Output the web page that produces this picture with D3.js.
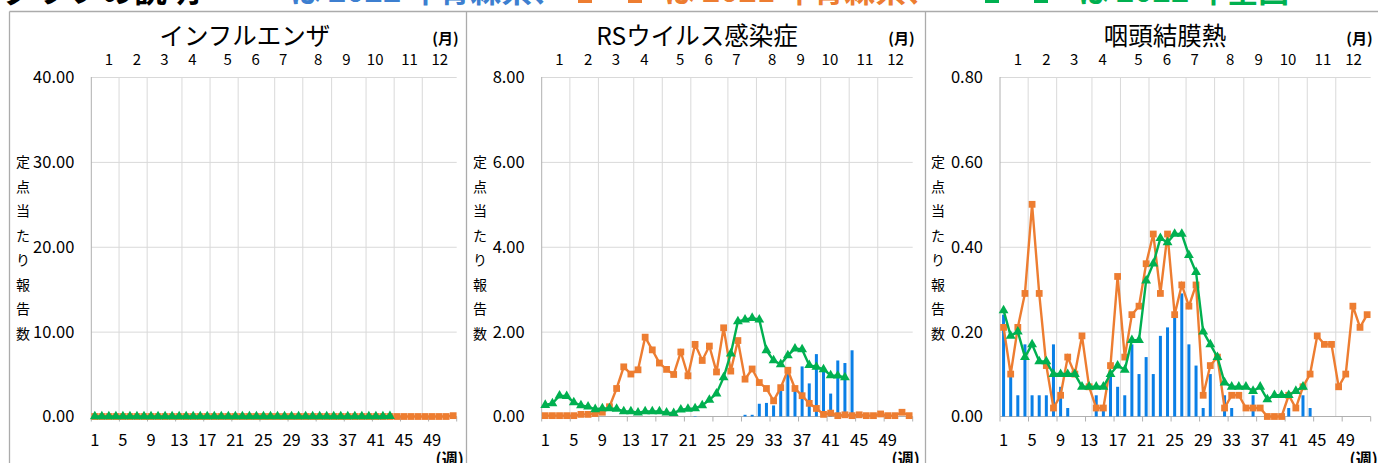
<!DOCTYPE html>
<html>
<head>
<meta charset="utf-8">
<script src="https://cdn.jsdelivr.net/npm/d3@7"></script>
<style>
  body { margin: 0; background: #fff; }
  svg { display: block; font-family: "Noto Sans CJK JP", "Noto Sans", sans-serif; }
</style>
</head>
<body>
<svg id="chart" width="1378" height="463"></svg>
<script>
// weeks 1..52 on the category axis
const weeks = d3.range(1, 53);
const weekTicks = [1, 5, 9, 13, 17, 21, 25, 29, 33, 37, 41, 45, 49];
const monthLabels = ["1", "2", "3", "4", "5", "6", "7", "8", "9", "10", "11", "12"];
// month positions in "weeks from the left edge" (secondary month axis)
const monthLabelPos = [2.5, 6.5, 10.4, 14.4, 19.4, 23.4, 27.3, 32.3, 36.3, 40.4, 45.3, 49.6];
const monthGridPos = [3.95, 7.95, 12.9, 16.9, 20.9, 26.1, 30.1, 34.2, 39.1, 43.1, 47.1];
const yLabelChars = ["定", "点", "当", "た", "り", "報", "告", "数"];

// ---- インフルエンザ ----
const flu2022Aomori = [0,0,0,0,0,0,0,0,0,0,0,0,0,0,0,0,0,0,0,0,0,0,0,0,0,0,0,0,0,0,0,0,0,0,0,0,0,0,0,0,0,0,0,0];
const flu2021Aomori = [0,0,0,0,0,0,0,0,0,0,0,0,0,0,0,0,0,0,0,0,0,0,0,0,0,0,0,0,0,0,0,0,0,0,0,0,0,0,0,0,0,0,0,0,0,0,0,0,0,0,0,0.1];
const flu2022Japan = [0.02,0.02,0.02,0.02,0.01,0.01,0.01,0.01,0.01,0.01,0.01,0.01,0.01,0.01,0.01,0.01,0.01,0.01,0.01,0.01,0.01,0.02,0.02,0.02,0.02,0.02,0.02,0.02,0.02,0.02,0.02,0.02,0.02,0.02,0.02,0.02,0.02,0.02,0.02,0.02,0.02,0.02,0.03];

// ---- RSウイルス感染症 ----
const rs2022Aomori = [0,0,0,0,0,0,0,0,0,0,0,0,0,0,0,0,0,0,0,0,0,0.01,0,0,0,0,0,0,0.04,0.04,0.30,0.32,0.26,0.60,1.00,0.62,1.18,0.78,1.47,1.05,0.54,1.32,1.26,1.56];
const rs2021Aomori = [0.02,0.02,0.02,0.02,0.02,0.05,0.05,0.07,0.10,0.23,0.66,1.17,1.00,1.10,1.87,1.57,1.26,1.11,0.99,1.52,0.96,1.70,1.32,1.66,1.05,2.09,1.07,1.79,0.88,1.12,0.80,0.66,0.37,0.68,1.09,0.66,0.49,0.31,0.19,0.05,0.08,0.02,0.04,0.02,0.04,0.02,0.02,0.06,0.02,0.02,0.10,0.02];
const rs2022Japan = [0.27,0.31,0.49,0.48,0.33,0.26,0.23,0.17,0.19,0.19,0.18,0.12,0.12,0.09,0.12,0.12,0.12,0.09,0.08,0.16,0.18,0.19,0.26,0.39,0.54,0.92,1.48,2.24,2.28,2.32,2.28,1.56,1.32,1.23,1.44,1.60,1.58,1.21,1.17,1.11,0.97,0.96,0.92];

// ---- 咽頭結膜熱 ----
const pcf2022Aomori = [0.24,0.10,0.05,0.17,0.05,0.05,0.05,0.17,0.07,0.02,0,0,0,0.05,0.02,0.10,0.07,0.05,0.17,0.10,0.14,0.10,0.19,0.21,0.24,0.29,0.17,0.12,0.02,0.10,0,0.05,0.02,0,0,0.05,0,0,0,0,0.02,0,0.05,0.02];
const pcf2021Aomori = [0.21,0.10,0.21,0.29,0.50,0.29,0.12,0.02,0.05,0.14,0.10,0.19,0.07,0.02,0.02,0.12,0.33,0.14,0.24,0.26,0.36,0.43,0.29,0.43,0.24,0.31,0.26,0.31,0.05,0.12,0.14,0.02,0.05,0.05,0.02,0.02,0.02,0,0,0,0.05,0.02,0.07,0.10,0.19,0.17,0.17,0.07,0.10,0.26,0.21,0.24];
const pcf2022Japan = [0.25,0.19,0.20,0.14,0.17,0.13,0.13,0.10,0.10,0.10,0.10,0.07,0.07,0.07,0.07,0.10,0.12,0.11,0.18,0.18,0.32,0.36,0.42,0.41,0.43,0.43,0.38,0.34,0.20,0.17,0.14,0.08,0.07,0.07,0.07,0.06,0.07,0.04,0.05,0.05,0.05,0.06,0.07];

const panels = [
  { title: "インフルエンザ", titleX: 245, x0: 91.3, x1: 456.7, yMax: 40, yTicks: [0, 10, 20, 30, 40], labelX: 23, border: 9.5,
    bars: flu2022Aomori, orange: flu2021Aomori, green: flu2022Japan },
  { title: "RSウイルス感染症", titleX: 697, x0: 541.7, x1: 912.7, yMax: 8, yTicks: [0, 2, 4, 6, 8], labelX: 480, border: 466.5,
    bars: rs2022Aomori, orange: rs2021Aomori, green: rs2022Japan },
  { title: "咽頭結膜熱", titleX: 1165, x0: 1000, x1: 1370.7, yMax: 0.8, yTicks: [0, 0.2, 0.4, 0.6, 0.8], labelX: 938, border: 925.5,
    bars: pcf2022Aomori, orange: pcf2021Aomori, green: pcf2022Japan }
];

const blue = "#0a7fe6", orange = "#ed7d31", green = "#00b050";
const grid = "#d9d9d9", axisCol = "#b0b0b0";
const yTop = 77, yBottom = 416.5;

const svg = d3.select("#chart");

// ---------- header (cut off at the top) ----------
const head = svg.append("g").attr("id", "header");
head.append("text").attr("x", 2).attr("y", 2)
  .style("font-size", "33px").style("font-weight", "bold").attr("fill", "#000")
  .text("グラフの説明");
head.append("text").attr("x", 290).attr("y", 2)
  .style("font-size", "31px").style("font-weight", "bold").attr("fill", "#3d7fd0")
  .text("は 2022 年青森県、");
[578, 628].forEach(x0 => head.append("rect").attr("x", x0).attr("y", -10)
  .attr("width", 14).attr("height", 13).attr("fill", orange));
head.append("text").attr("x", 664).attr("y", 2)
  .style("font-size", "31px").style("font-weight", "bold").attr("fill", orange)
  .text("は 2021 年青森県、");
[985, 1034].forEach(x0 => head.append("rect").attr("x", x0).attr("y", -10)
  .attr("width", 14).attr("height", 13).attr("fill", green));
head.append("text").attr("x", 1078).attr("y", 2)
  .style("font-size", "31px").style("font-weight", "bold").attr("fill", green)
  .text("は 2022 年全国");

// ---------- panel frames ----------
svg.append("line").attr("x1", 9.5).attr("x2", 1378).attr("y1", 11.5).attr("y2", 11.5)
  .attr("stroke", "#ababab").attr("stroke-width", 1.3);

panels.forEach(p => {
  svg.append("line").attr("x1", p.border).attr("x2", p.border).attr("y1", 11.5).attr("y2", 463)
    .attr("stroke", "#ababab").attr("stroke-width", 1.3);

  const g = svg.append("g");
  const x = d3.scaleBand().domain(weeks).range([p.x0, p.x1]);
  const xm = d3.scaleLinear().domain([0, 52]).range([p.x0, p.x1]);
  const y = d3.scaleLinear().domain([0, p.yMax]).range([yBottom, yTop]);
  const cx = w => x(w) + x.bandwidth() / 2;

  // horizontal gridlines
  g.append("g")
    .attr("transform", `translate(${p.x0},0)`)
    .call(d3.axisLeft(y).tickValues(p.yTicks.slice(1)).tickSize(-(p.x1 - p.x0)).tickFormat(""))
    .call(a => a.select(".domain").remove())
    .call(a => a.selectAll("line").attr("stroke", grid));

  // month gridlines
  g.selectAll(".mgrid").data(monthGridPos).join("line")
    .attr("x1", d => xm(d)).attr("x2", d => xm(d))
    .attr("y1", yTop).attr("y2", yBottom)
    .attr("stroke", grid);

  // y axis line + labels
  g.append("line").attr("x1", p.x0).attr("x2", p.x0).attr("y1", yTop).attr("y2", yBottom)
    .attr("stroke", axisCol);
  g.selectAll(".ytick").data(p.yTicks).join("text")
    .attr("x", p.x0 - 17).attr("y", d => y(d)).attr("dy", "0.36em")
    .attr("text-anchor", "end").style("font-size", "16.5px").attr("fill", "#000")
    .text(d => d.toFixed(2));

  // x axis (weeks)
  g.append("line").attr("x1", p.x0).attr("x2", p.x1).attr("y1", yBottom).attr("y2", yBottom)
    .attr("stroke", axisCol);
  g.selectAll(".xtickmark").data([0, 4, 8, 12, 16, 20, 24, 28, 32, 36, 40, 44, 48, 52]).join("line")
    .attr("x1", d => xm(d)).attr("x2", d => xm(d))
    .attr("y1", yBottom).attr("y2", yBottom + 5)
    .attr("stroke", axisCol);
  g.selectAll(".xtick").data(weekTicks).join("text")
    .attr("x", d => cx(d)).attr("y", 446)
    .attr("text-anchor", "middle").style("font-size", "16.5px").attr("fill", "#000")
    .text(d => d);
  g.append("text").attr("x", p.x1 + 7).attr("y", 465).attr("text-anchor", "end")
    .style("font-size", "16px").style("font-weight", "bold").text("(週)");

  // month axis on top
  g.selectAll(".mtick").data(monthLabels).join("text")
    .attr("x", (d, i) => xm(monthLabelPos[i])).attr("y", 65)
    .attr("text-anchor", "middle").style("font-size", "15px").attr("fill", "#000")
    .text(d => d);
  g.append("text").attr("x", p.x1 + 2).attr("y", 44).attr("text-anchor", "end")
    .style("font-size", "15px").style("font-weight", "bold").text("(月)");

  // title
  g.append("text").attr("x", p.titleX).attr("y", 45)
    .attr("text-anchor", "middle").style("font-size", "24.5px").attr("fill", "#000")
    .text(p.title);

  // vertical y label
  g.selectAll(".ylab").data(yLabelChars).join("text")
    .attr("x", p.labelX).attr("y", (d, i) => 162 + i * 24.5).attr("dy", "0.36em")
    .attr("text-anchor", "middle").style("font-size", "14px").attr("fill", "#000")
    .text(d => d);

  // bars: 2022 Aomori
  g.selectAll(".bar").data(p.bars).join("rect")
    .attr("x", (d, i) => cx(weeks[i]) - 1.5)
    .attr("width", 3)
    .attr("y", d => y(d))
    .attr("height", d => yBottom - y(d))
    .attr("fill", blue);

  // orange: 2021 Aomori
  const line = d3.line().x((d, i) => cx(weeks[i])).y(d => y(d));
  g.append("path").datum(p.orange).attr("d", line)
    .attr("fill", "none").attr("stroke", orange).attr("stroke-width", 2.4);
  g.selectAll(".sq").data(p.orange).join("path")
    .attr("transform", (d, i) => `translate(${cx(weeks[i])},${y(d)})`)
    .attr("d", d3.symbol(d3.symbolSquare, 46))
    .attr("fill", orange);

  // green: 2022 national
  g.append("path").datum(p.green).attr("d", line)
    .attr("fill", "none").attr("stroke", green).attr("stroke-width", 2.4);
  g.selectAll(".tri").data(p.green).join("path")
    .attr("transform", (d, i) => `translate(${cx(weeks[i])},${y(d)})`)
    .attr("d", d3.symbol(d3.symbolTriangle, 42))
    .attr("fill", green);
});
</script>
</body>
</html>
